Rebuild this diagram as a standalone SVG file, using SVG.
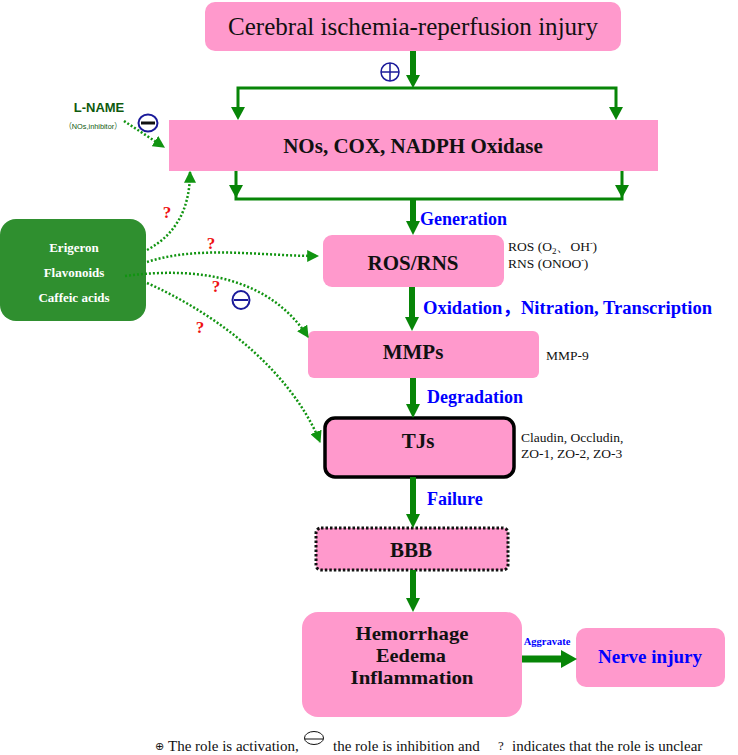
<svg xmlns="http://www.w3.org/2000/svg" width="738" height="755" viewBox="0 0 738 755">
<defs>
<style>
.pink{fill:#FF99CC}
.t{font-family:"Liberation Serif","Noto Sans CJK SC",serif;text-anchor:middle}
.b{font-weight:bold;fill:#111}
.lbl{font-family:"Liberation Serif","Noto Sans CJK SC",serif;font-weight:bold;fill:#0000FF;font-size:18px}
.side{font-family:"Liberation Serif",serif;font-size:13.5px;fill:#111}
.sh{stroke:#078507;fill:none}
.hd{fill:#078507}
.dot{stroke:#119411;stroke-width:2.5;stroke-dasharray:2 2;fill:none}
.q{font-family:"Liberation Serif","Noto Sans CJK SC",serif;font-weight:bold;fill:#EE1111;font-size:17px;text-anchor:middle}
.wt{font-family:"Liberation Serif",serif;font-weight:bold;fill:#fff;font-size:13px;text-anchor:middle}
</style>
<marker id="da" markerUnits="userSpaceOnUse" markerWidth="12" markerHeight="12" viewBox="0 0 10 10" refX="9" refY="5" orient="auto">
<path d="M0,0 L10,5 L0,10 z" fill="#119411"/>
</marker>
</defs>

<g id="n-cerebral">
<rect class="pink" x="205" y="2" width="416" height="49" rx="10"/>
<text class="t" x="413" y="35" font-size="25" textLength="370" lengthAdjust="spacingAndGlyphs" fill="#111">Cerebral ischemia-reperfusion injury</text>
</g>

<g id="n-enzymes">
<rect class="pink" x="169" y="120" width="489" height="51"/>
<text class="t b" x="413" y="153" font-size="21">NOs, COX, NADPH Oxidase</text>
</g>

<g id="n-ros">
<rect class="pink" x="323" y="235" width="181" height="52" rx="9"/>
<text class="t b" x="413" y="270" font-size="21">ROS/RNS</text>
<text class="side" x="508" y="251" font-size="13">ROS (O<tspan font-size="9" dy="3">2</tspan><tspan dy="-3">、OH</tspan><tspan font-size="8" dy="-5">-</tspan><tspan dy="5">)</tspan></text>
<text class="side" x="508" y="268" font-size="13">RNS (ONOO<tspan font-size="8" dy="-5">-</tspan><tspan dy="5">)</tspan></text>
</g>

<g id="n-mmps">
<rect class="pink" x="308" y="331" width="231" height="47" rx="6"/>
<text class="t b" x="413" y="359" font-size="21">MMPs</text>
<text class="side" x="546" y="360">MMP-9</text>
</g>

<g id="n-tjs">
<rect class="pink" x="325" y="418" width="189" height="59" rx="10" stroke="#000" stroke-width="3.5"/>
<text class="t b" x="418" y="448" font-size="21">TJs</text>
<text class="side" x="521" y="442">Claudin, Occludin,</text>
<text class="side" x="521" y="458">ZO-1, ZO-2, ZO-3</text>
</g>

<g id="n-bbb">
<rect class="pink" x="316" y="528" width="192" height="42" rx="5" stroke="#111" stroke-width="3" stroke-dasharray="2.5 2"/>
<text class="t b" x="411" y="557" font-size="21">BBB</text>
</g>

<g id="n-outcome">
<rect class="pink" x="302" y="612" width="220" height="105" rx="16"/>
<text class="t b" x="412" y="640" font-size="19" textLength="113" lengthAdjust="spacingAndGlyphs">Hemorrhage</text>
<text class="t b" x="411" y="662" font-size="19" textLength="70" lengthAdjust="spacingAndGlyphs">Eedema</text>
<text class="t b" x="412" y="684" font-size="19" textLength="123" lengthAdjust="spacingAndGlyphs">Inflammation</text>
</g>

<g id="n-nerve">
<rect class="pink" x="576" y="628" width="149" height="59" rx="10"/>
<text class="t" x="650" y="663" font-size="19" font-weight="bold" fill="#0000FF">Nerve injury</text>
</g>

<g id="n-herbs">
<rect x="0" y="219" width="146" height="102" rx="16" fill="#2F8F2F"/>
<text class="wt" x="74" y="252">Erigeron</text>
<text class="wt" x="74" y="277">Flavonoids</text>
<text class="wt" x="74" y="302">Caffeic acids</text>
</g>

<g id="n-lname">
<text x="99" y="112" font-family="Liberation Sans,sans-serif" font-weight="bold" font-size="13" fill="#0E5A0E" text-anchor="middle">L-NAME</text>
<text x="93" y="129" font-family="Liberation Sans,'Noto Sans CJK SC',sans-serif" font-size="8" fill="#0E5A0E" text-anchor="middle" textLength="57" lengthAdjust="spacingAndGlyphs">（NOs,inhibitor）</text>
</g>

<g id="connectors">
<line class="sh" x1="413" y1="51" x2="413" y2="76" stroke-width="6"/>
<polygon class="hd" points="406,75 420,75 413,88"/>
<polyline class="sh" points="238,108 238,88 616,88 616,108" stroke-width="3"/>
<polygon class="hd" points="231,107 245,107 238,120"/>
<polygon class="hd" points="609,107 623,107 616,120"/>
<polyline class="sh" points="236,171 236,199 622,199 622,171" stroke-width="3"/>
<polygon class="hd" points="229,185 243,185 236,198"/>
<polygon class="hd" points="615,185 629,185 622,198"/>
<line class="sh" x1="413" y1="199" x2="413" y2="222" stroke-width="6"/>
<polygon class="hd" points="406,221 420,221 413,235"/>
<line class="sh" x1="412" y1="287" x2="412" y2="318" stroke-width="6"/>
<polygon class="hd" points="405,317 419,317 412,331"/>
<line class="sh" x1="413" y1="378" x2="413" y2="405" stroke-width="6"/>
<polygon class="hd" points="406,404 420,404 413,418"/>
<line class="sh" x1="413" y1="477" x2="413" y2="515" stroke-width="6"/>
<polygon class="hd" points="406,514 420,514 413,528"/>
<line class="sh" x1="413" y1="570" x2="413" y2="599" stroke-width="6"/>
<polygon class="hd" points="406,598 420,598 413,612"/>
<line class="sh" x1="522" y1="659" x2="562" y2="659" stroke-width="7"/>
<polygon class="hd" points="561,650 561,668 577,659"/>

<path class="dot" d="M124,121 L164,147" marker-end="url(#da)"/>
<path class="dot" d="M147,250 C175,235 190,210 190,172" marker-end="url(#da)"/>
<path class="dot" d="M147,262 C200,245 260,256 318,256" marker-end="url(#da)"/>
<path class="dot" d="M125,276 C200,266 270,278 308,337" marker-end="url(#da)"/>
<path class="dot" d="M147,283 C230,320 295,380 320,442" marker-end="url(#da)"/>

<text class="lbl" x="420" y="225">Generation</text>
<text class="lbl" x="423" y="314" textLength="289" lengthAdjust="spacingAndGlyphs">Oxidation，Nitration, Transcription</text>
<text class="lbl" x="427" y="403">Degradation</text>
<text class="lbl" x="427" y="505">Failure</text>
<text x="547" y="645" font-family="Liberation Serif,serif" font-weight="bold" font-size="10.5" fill="#0000FF" text-anchor="middle">Aggravate</text>

<g fill="none" stroke="#1A1A9A" stroke-width="1.5">
<circle cx="390" cy="72" r="9"/>
<line x1="381" y1="72" x2="399" y2="72"/>
<line x1="390" y1="63" x2="390" y2="81"/>
</g>
<ellipse cx="148" cy="123" rx="9.5" ry="8.5" fill="#fff" stroke="#1A1A9A" stroke-width="2"/>
<line x1="141" y1="123" x2="155" y2="123" stroke="#111" stroke-width="3"/>
<ellipse cx="241" cy="300" rx="8.5" ry="9" fill="none" stroke="#1A1A9A" stroke-width="2"/>
<line x1="234" y1="300" x2="248" y2="300" stroke="#1A1A9A" stroke-width="2"/>
<text class="q" x="167" y="218">?</text>
<text class="q" x="211" y="249">?</text>
<text class="q" x="216" y="292">?</text>
<text class="q" x="200" y="333">?</text>
</g>

<g id="legend" font-family="Liberation Serif,'Noto Sans CJK SC',serif" font-size="15" fill="#111">
<text x="155" y="750" font-size="11" font-family="DejaVu Sans,sans-serif">⊕</text>
<text x="168" y="751">The role is activation,</text>
<ellipse cx="314" cy="738" rx="9.5" ry="6.5" fill="none" stroke="#111" stroke-width="1"/>
<line x1="304.5" y1="739" x2="323.5" y2="739" stroke="#111" stroke-width="1"/>
<text x="333" y="751">the role is inhibition and</text>
<text x="498" y="750" font-size="13">?</text>
<text x="512" y="751">indicates that the role is unclear</text>
</g>
</svg>
